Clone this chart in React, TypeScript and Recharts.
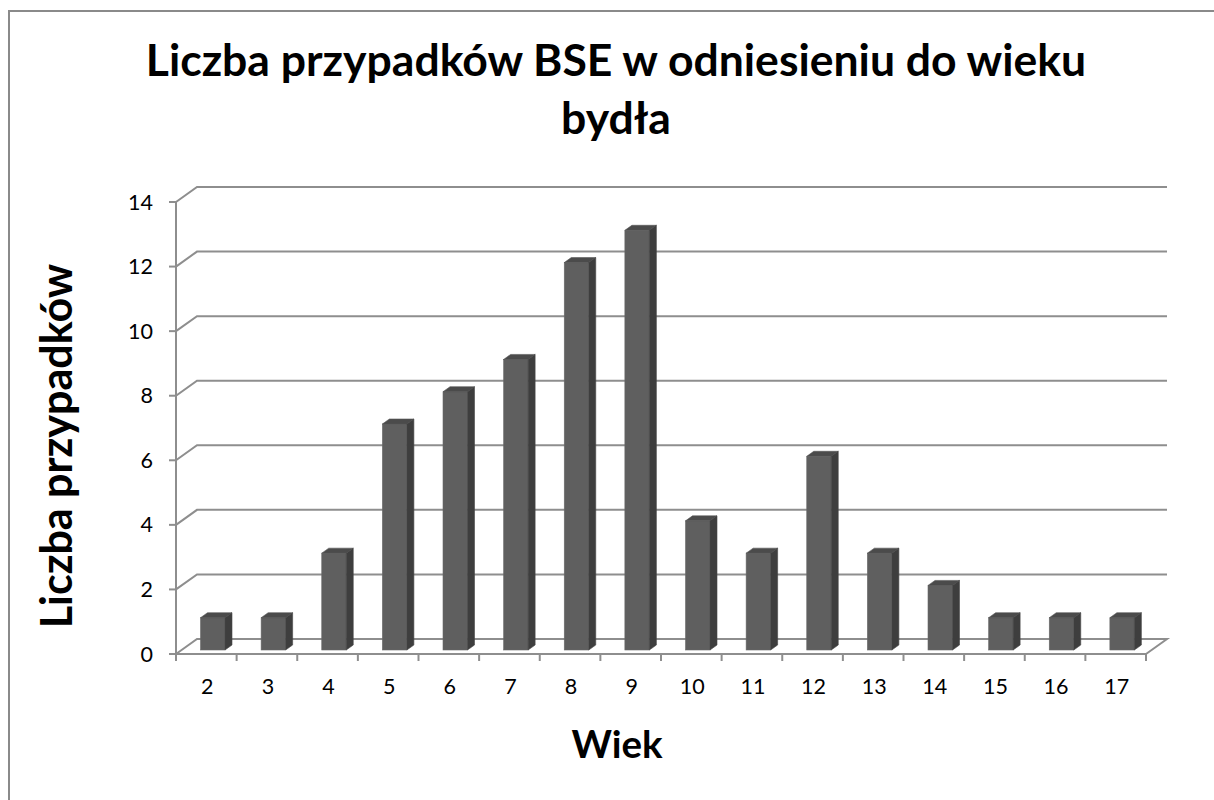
import React from 'react';
import { BarChart, Bar, XAxis, YAxis, CartesianGrid, Label } from 'recharts';

const ages = ['2', '3', '4', '5', '6', '7', '8', '9', '10', '11', '12', '13', '14', '15', '16', '17'];
const cases = [1, 1, 3, 7, 8, 9, 12, 13, 4, 3, 6, 3, 2, 1, 1, 1];
const yTicks = [0, 2, 4, 6, 8, 10, 12, 14];
const titleLines = ['Liczba przypadków BSE w odniesieniu do wieku', 'bydła'];
const xTitle = 'Wiek';
const yTitle = 'Liczba przypadków';

const data = ages.map((a, i) => ({ age: a, value: cases[i] }));

const W = 1214;
const H = 800;
const PLOT_LEFT = 176;
const PLOT_RIGHT = 1146;
const PLOT_TOP = 202;
const PLOT_BOTTOM = 654;
const Y_AXIS_W = 60;
const X_AXIS_H = 50;
const DEPTH_X = 21;
const DEPTH_Y = 15;
const BAR_OX = 6.5;
const BAR_OY = -4;
const BAR_DX = 7;
const BAR_DY = 5;
const GRID = '#8e8e8e';
const FONT = 'Lato, "Open Sans", sans-serif';
const BAND = (PLOT_RIGHT - PLOT_LEFT) / ages.length;

const Bar3D = (props: any) => {
  const { x, y, width, height } = props;
  if (width == null || height == null) return null;
  const fx = x + BAR_OX;
  const fy = y + BAR_OY;
  const w = width;
  const h = height;
  const top = `${fx},${fy} ${fx + BAR_DX},${fy - BAR_DY} ${fx + w + BAR_DX},${fy - BAR_DY} ${fx + w},${fy}`;
  const side = `${fx + w},${fy} ${fx + w + BAR_DX},${fy - BAR_DY} ${fx + w + BAR_DX},${fy + h - BAR_DY} ${fx + w},${fy + h}`;
  return (
    <g>
      <rect x={fx} y={fy} width={w} height={h} fill="#5f5f5f" stroke="#6a6a6a" strokeWidth={0.6} />
      <polygon points={top} fill="#4b4b4b" stroke="#555" strokeWidth={0.6} />
      <polygon points={side} fill="#3e3e3e" stroke="#474747" strokeWidth={0.6} />
    </g>
  );
};

const gridLine = (props: any) => {
  const { x1, y1, x2, index } = props;
  const isFloor = Math.abs(y1 - PLOT_BOTTOM) < 1;
  let d = `M${x1},${y1} L${x1 + DEPTH_X},${y1 - DEPTH_Y} L${x2 + DEPTH_X},${y1 - DEPTH_Y}`;
  if (isFloor) d += ` L${x2},${y1}`;
  return <path key={`g-${index}-${y1}`} d={d} fill="none" stroke={GRID} strokeWidth={2} />;
};

const XTick = (props: any) => {
  const { x, payload, index } = props;
  const left = x - BAND / 2;
  return (
    <g>
      <line x1={left} y1={PLOT_BOTTOM} x2={left} y2={PLOT_BOTTOM + 7} stroke={GRID} strokeWidth={2} />
      {index === ages.length - 1 && (
        <line x1={x + BAND / 2} y1={PLOT_BOTTOM} x2={x + BAND / 2} y2={PLOT_BOTTOM + 7} stroke={GRID} strokeWidth={2} />
      )}
      <text x={x + 1} y={PLOT_BOTTOM + 40} textAnchor="middle" fontFamily={FONT} fontSize={21.5} fill="#000">
        {payload.value}
      </text>
    </g>
  );
};

const YTick = (props: any) => {
  const { y, payload } = props;
  return (
    <text x={153} y={y + 7.5} textAnchor="end" fontFamily={FONT} fontSize={21.5} fill="#000">
      {payload.value}
    </text>
  );
};

export default function App() {
  return (
    <div style={{ position: 'absolute', left: 0, top: 0, width: W, height: H, overflow: 'hidden', background: '#fff' }}>
      <div
        style={{
          position: 'absolute',
          left: 8,
          top: 10,
          width: W + 20,
          height: H + 20,
          border: '2px solid #8a8a8a',
          boxSizing: 'border-box',
        }}
      />
      <div style={{ position: 'absolute', left: 0, top: 0 }}>
        <BarChart
          width={W}
          height={H}
          data={data}
          margin={{ top: PLOT_TOP, right: W - PLOT_RIGHT, bottom: H - PLOT_BOTTOM - X_AXIS_H, left: PLOT_LEFT - Y_AXIS_W }}
          barSize={24.5}
        >
          <CartesianGrid vertical={false} horizontal={gridLine} />
          <XAxis
            dataKey="age"
            height={X_AXIS_H}
            axisLine={{ stroke: GRID, strokeWidth: 2 }}
            tickLine={false}
            tick={<XTick />}
            interval={0}
          >
            <Label
              content={() => (
                <text x={617} y={758} textAnchor="middle" fontFamily={FONT} fontWeight={700} fontSize={38.5} fill="#000">
                  {xTitle}
                </text>
              )}
            />
          </XAxis>
          <YAxis
            width={Y_AXIS_W}
            domain={[0, 14]}
            ticks={yTicks}
            interval={0}
            axisLine={{ stroke: GRID, strokeWidth: 2 }}
            tickLine={{ stroke: GRID, strokeWidth: 2 }}
            tickSize={7}
            tick={<YTick />}
          >
            <Label
              content={() => (
                <text
                  x={72}
                  y={446}
                  transform="rotate(-90 72 446)"
                  textAnchor="middle"
                  fontFamily={FONT}
                  fontWeight={700}
                  fontSize={43}
                  fill="#000"
                >
                  {yTitle}
                </text>
              )}
            />
          </YAxis>
          <Bar dataKey="value" shape={<Bar3D />} isAnimationActive={false} />
        </BarChart>
      </div>
      <svg
        width={W}
        height={H}
        style={{ position: 'absolute', left: 0, top: 0, pointerEvents: 'none' }}
      >
        <text x={616} y={76} textAnchor="middle" fontFamily={FONT} fontWeight={700} fontSize={44.5} fill="#000">
          {titleLines[0]}
        </text>
        <text x={616} y={134} textAnchor="middle" fontFamily={FONT} fontWeight={700} fontSize={44.5} fill="#000">
          {titleLines[1]}
        </text>
      </svg>
    </div>
  );
}
